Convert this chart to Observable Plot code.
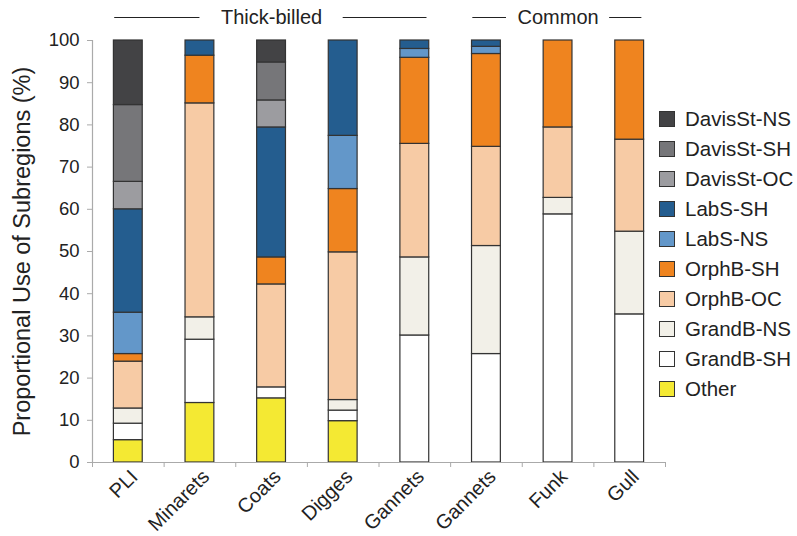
<!DOCTYPE html>
<html><head><meta charset="utf-8">
<script src="https://cdn.jsdelivr.net/npm/d3@7"></script>
<script src="https://cdn.jsdelivr.net/npm/@observablehq/plot@0.6"></script>
<style>
body{margin:0;background:#fff;font-family:"Liberation Sans",Arial,sans-serif;}
#wrap{position:relative;width:797px;height:536px;}
#legend{position:absolute;left:659px;top:104px;}
.row{display:flex;align-items:center;height:30px;font-size:20.5px;color:#222;white-space:nowrap;}
.sw{width:14px;height:14px;border:1px solid #333;margin-right:10px;flex:none;}
</style></head><body><div id="wrap"><div id="legend"></div></div>
<script>
const sites = ["PLI","Minarets","Coats","Digges","Gannets","Gannets","Funk","Gull"];
const species = ["Thick-billed","Thick-billed","Thick-billed","Thick-billed","Thick-billed","Common","Common","Common"];
const subregions = ["Other","GrandB-SH","GrandB-NS","OrphB-OC","OrphB-SH","LabS-NS","LabS-SH","DavisSt-OC","DavisSt-SH","DavisSt-NS"];
const colors = ["#f4e933","#ffffff","#f2f0e8","#f7cba5","#ef841f","#6397c9","#245d8f","#9c9ca0","#767679","#434345"];
const other    = [5.3, 14.1, 15.2, 9.8, 0, 0, 0, 0];
const grandbSH = [3.9, 15.0, 2.6, 2.5, 30.1, 25.7, 58.8, 35.1];
const grandbNS = [3.6, 5.3, 0, 2.5, 18.5, 25.6, 3.9, 19.6];
const orphbOC  = [11.1, 50.7, 24.4, 35.0, 26.9, 23.5, 16.7, 21.8];
const orphbSH  = [1.8, 11.3, 6.4, 15.0, 20.4, 22.0, 20.6, 23.5];
const labsNS   = [9.8, 0, 0, 12.6, 2.1, 1.7, 0, 0];
const labsSH   = [24.5, 3.6, 30.8, 22.6, 2.0, 1.5, 0, 0];
const davisOC  = [6.5, 0, 6.4, 0, 0, 0, 0, 0];
const davisSH  = [18.2, 0, 9.0, 0, 0, 0, 0, 0];
const davisNS  = [15.3, 0, 5.2, 0, 0, 0, 0, 0];
const yTicks = [0,10,20,30,40,50,60,70,80,90,100];
const yLabel = "Proportional Use of Subregions (%)";

const series = [other, grandbSH, grandbNS, orphbOC, orphbSH, labsNS, labsSH, davisOC, davisSH, davisNS];
const rows = [];
sites.forEach((s, i) => {
  let acc = 0;
  series.forEach((vals, k) => {
    const v = vals[i];
    if (v > 0) rows.push({i, site: s, sub: subregions[k], y1: acc, y2: acc + v});
    acc += v;
  });
});

// species groups spanning consecutive sites
const groups = [];
species.forEach((g, i) => {
  const last = groups[groups.length - 1];
  if (last && last.name === g) last.end = i + 1;
  else groups.push({name: g, start: i, end: i + 1});
});
const headerGap = {"Thick-billed": 1.0, "Common": 0.72};
const segs = [];
groups.forEach(g => {
  const c = (g.start + g.end) / 2, gap = headerGap[g.name];
  segs.push({x1: g.start + 0.31, x2: c - gap});
  segs.push({x1: c + gap, x2: g.end - 0.33});
});

const n = sites.length;
const chart = Plot.plot({
  width: 797, height: 536,
  marginLeft: 92, marginRight: 132, marginTop: 40, marginBottom: 74,
  style: {fontFamily: "'Liberation Sans', Arial, sans-serif", fontSize: "18px", color: "#222", background: "transparent", overflow: "visible"},
  x: {type: "linear", domain: [0, n], axis: null},
  y: {domain: [0, 100], axis: null},
  color: {domain: subregions, range: colors},
  marks: [
    Plot.rect(rows, {x1: "i", x2: d => d.i + 1, y1: "y1", y2: "y2", fill: "sub", stroke: "#333", strokeWidth: 1.2, insetLeft: 21.4, insetRight: 21.4}),
    Plot.ruleY([0], {stroke: "#aaa", strokeWidth: 1.2}),
    Plot.ruleX([0], {stroke: "#aaa", strokeWidth: 1.2}),
    Plot.axisY({ticks: yTicks, tickSize: 5, tickPadding: 8, stroke: "#aaa", fill: "#222", fontSize: 18.5, label: null}),
    Plot.axisX({ticks: d3.range(0, n + 1), tickSize: 5, stroke: "#aaa", tickFormat: () => "", label: null}),
    Plot.axisX({ticks: d3.range(0, n).map(i => i + 0.5), tickSize: 0, tickPadding: 11, dx: 6, tickRotate: -45, tickFormat: v => sites[Math.floor(v)], fill: "#222", fontSize: 20, label: null}),
    Plot.text([yLabel], {frameAnchor: "left", textAnchor: "middle", lineAnchor: "middle", dx: -70, rotate: -90, fontSize: 23.5, fill: "#222"}),
    Plot.text(groups, {x: d => (d.start + d.end) / 2, text: "name", frameAnchor: "top", lineAnchor: "middle", dy: -23, fontSize: 20, fill: "#222"}),
    Plot.ruleY(segs.map(() => 100), {x1: (d, j) => segs[j].x1, x2: (d, j) => segs[j].x2, dy: -23, stroke: "#222", strokeWidth: 1.2})
  ]
});
document.getElementById("wrap").prepend(chart);

const legend = document.getElementById("legend");
subregions.slice().reverse().forEach(s => {
  const r = document.createElement("div");
  r.className = "row";
  const sw = document.createElement("span");
  sw.className = "sw";
  sw.style.background = colors[subregions.indexOf(s)];
  r.appendChild(sw);
  r.appendChild(document.createTextNode(s));
  legend.appendChild(r);
});
</script></body></html>
